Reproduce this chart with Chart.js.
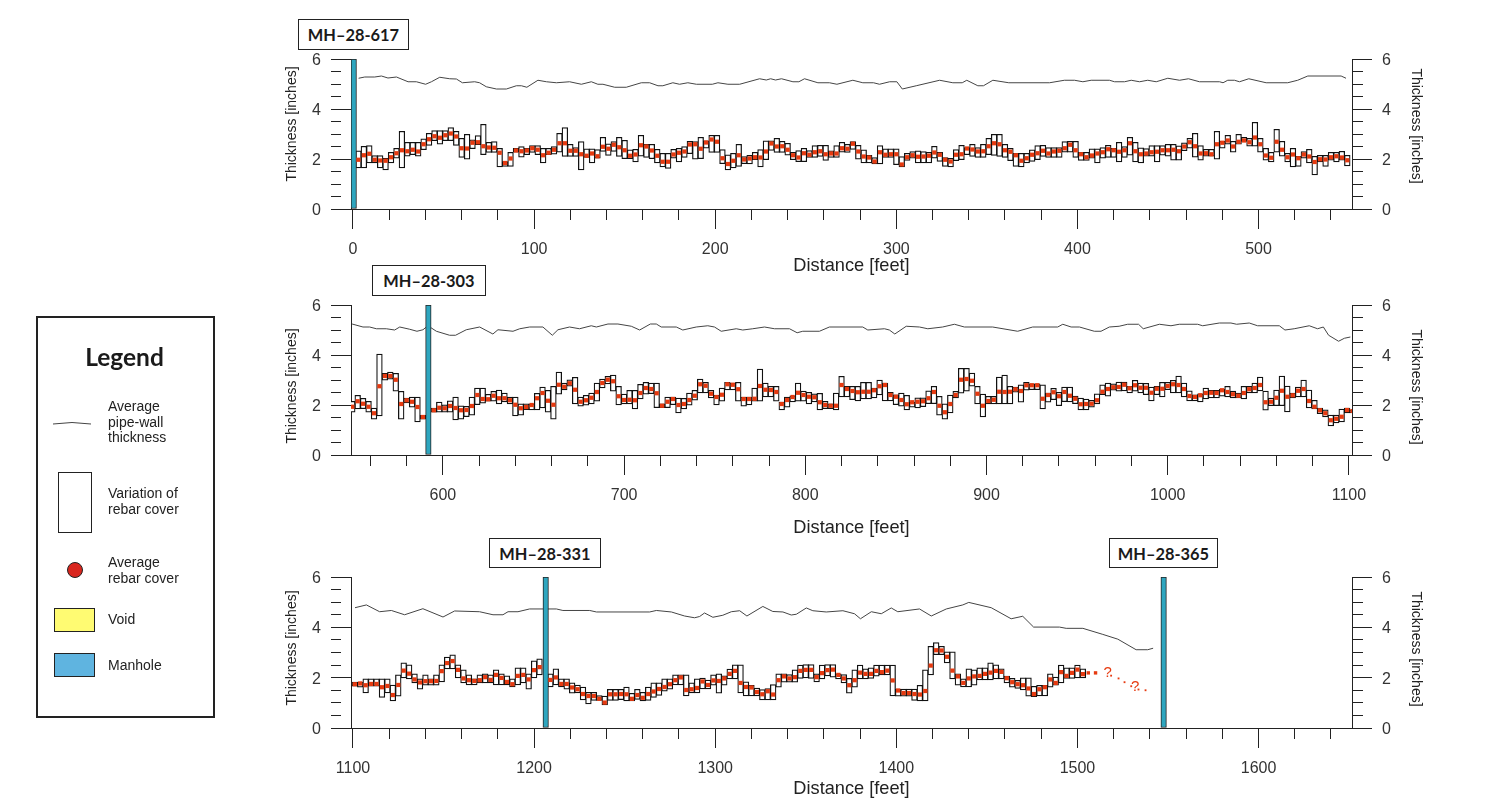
<!DOCTYPE html>
<html>
<head>
<meta charset="utf-8">
<title>Pipe-wall thickness and rebar cover</title>
<script src="https://cdn.jsdelivr.net/npm/chart.js@4"></script>
<style>
  body { margin: 0; background: #fff; overflow: hidden; font-family: "Liberation Sans", Arial, sans-serif; color: #222; }
  canvas { position: absolute; left: 0; }
  .mh { position: absolute; box-sizing: border-box; border: 1.5px solid #222; background: #fff; display: flex; align-items: center; justify-content: center; font: bold 16.4px Lato, sans-serif; color: #1a1a1a; z-index: 5; }
  .ytitle { position: absolute; font-size: 14px; white-space: nowrap; color: #222; }
  .ytitle.left { transform: translate(-50%, -50%) rotate(-90deg); }
  .ytitle.right { transform: translate(-50%, -50%) rotate(90deg); }
  #legend { position: absolute; left: 36px; top: 316px; width: 179px; height: 402px; box-sizing: border-box; border: 2px solid #222; }
  #legend-title { position: absolute; left: 36px; top: 342px; width: 177px; text-align: center; font: bold 24.5px Lato, sans-serif; color: #1a1a1a; }
  .lg { position: absolute; left: 108px; font-size: 14px; line-height: 15.5px; color: #222; }
  .sw { position: absolute; box-sizing: border-box; border: 1px solid #222; }
</style>
</head>
<body>
<canvas id="panel1" width="1496" height="277" style="top:0"></canvas>
<canvas id="panel2" width="1496" height="279" style="top:260px"></canvas>
<canvas id="panel3" width="1496" height="270" style="top:530px"></canvas>

<div class="mh" style="left:298px;top:19px;width:111px;height:31px">MH–28-617</div>
<div class="mh" style="left:372px;top:265px;width:114px;height:31px">MH–28-303</div>
<div class="mh" style="left:489px;top:538px;width:112px;height:30px">MH–28-331</div>
<div class="mh" style="left:1109px;top:538px;width:109px;height:30px">MH–28-365</div>

<div class="ytitle left" style="left:291px;top:124px">Thickness [inches]</div>
<div class="ytitle right" style="left:1417px;top:126px">Thickness [inches]</div>
<div class="ytitle left" style="left:291px;top:386px">Thickness [inches]</div>
<div class="ytitle right" style="left:1417px;top:387px">Thickness [inches]</div>
<div class="ytitle left" style="left:291px;top:648px">Thickness [inches]</div>
<div class="ytitle right" style="left:1417px;top:649px">Thickness [inches]</div>

<div id="legend"></div>
<div id="legend-title">Legend</div>
<svg style="position:absolute;left:50px;top:418px" width="44" height="12"><path d="M3 6 Q22 3 41 6" fill="none" stroke="#444" stroke-width="1"/></svg>
<div class="lg" style="top:399px">Average<br>pipe-wall<br>thickness</div>
<div class="sw" style="left:58px;top:472px;width:34px;height:61px;background:#fff"></div>
<div class="lg" style="top:486px">Variation of<br>rebar cover</div>
<div class="sw" style="left:67px;top:562px;width:16px;height:16px;border-radius:50%;background:#d9261e"></div>
<div class="lg" style="top:555px">Average<br>rebar cover</div>
<div class="sw" style="left:54px;top:608px;width:41px;height:24px;background:#fffb72"></div>
<div class="lg" style="top:612px">Void</div>
<div class="sw" style="left:54px;top:653px;width:41px;height:24px;background:#5fb4e0"></div>
<div class="lg" style="top:658px">Manhole</div>

<script>
const yTicks = [0, 0.5, 1, 1.5, 2, 2.5, 3, 3.5, 4, 4.5, 5, 5.5, 6];

// panel 1, 0 to 550 feet
const p1Ticks = [0, 20, 40, 60, 80, 100, 120, 140, 160, 180, 200, 220, 240, 260, 280, 300, 320, 340, 360, 380, 400, 420, 440, 460, 480, 500, 520, 540];
const p1Manholes = [0.4];
const p1Dist = [3, 6, 9, 12, 15, 18, 21, 24, 27, 30, 33, 36, 39, 42, 45, 48, 51, 54, 57, 60, 63, 66, 69, 72, 75, 78, 81, 84, 87, 90, 93, 96, 99, 102, 105, 108, 111, 114, 117, 120, 123, 126, 129, 132, 135, 138, 141, 144, 147, 150, 153, 156, 159, 162, 165, 168, 171, 174, 177, 180, 183, 186, 189, 192, 195, 198, 201, 204, 207, 210, 213, 216, 219, 222, 225, 228, 231, 234, 237, 240, 243, 246, 249, 252, 255, 258, 261, 264, 267, 270, 273, 276, 279, 282, 285, 288, 291, 294, 297, 300, 303, 306, 309, 312, 315, 318, 321, 324, 327, 330, 333, 336, 339, 342, 345, 348, 351, 354, 357, 360, 363, 366, 369, 372, 375, 378, 381, 384, 387, 390, 393, 396, 399, 402, 405, 408, 411, 414, 417, 420, 423, 426, 429, 432, 435, 438, 441, 444, 447, 450, 453, 456, 459, 462, 465, 468, 471, 474, 477, 480, 483, 486, 489, 492, 495, 498, 501, 504, 507, 510, 513, 516, 519, 522, 525, 528, 531, 534, 537, 540, 543, 546, 549];
const p1High = [
  2.33, 2.51, 2.54, 2.14, 2.14, 2.03, 2.27, 2.43, 3.11, 2.67,
  2.67, 2.67, 2.81, 3.03, 3.14, 3.14, 3.14, 3.26, 3.11, 2.83,
  2.99, 2.77, 2.94, 3.39, 2.67, 2.70, 2.43, 1.90, 2.27, 2.43,
  2.50, 2.43, 2.54, 2.54, 2.43, 2.43, 2.50, 3.03, 3.26, 2.59,
  2.46, 2.70, 2.41, 2.41, 2.38, 2.87, 2.61, 2.70, 2.87, 2.75,
  2.37, 2.39, 2.95, 2.59, 2.59, 2.39, 2.23, 2.23, 2.39, 2.43,
  2.50, 2.71, 2.70, 2.87, 2.73, 2.95, 2.95, 2.38, 2.17, 2.23,
  2.59, 2.10, 2.15, 2.27, 2.38, 2.73, 2.73, 2.83, 2.71, 2.63,
  2.27, 2.34, 2.43, 2.34, 2.54, 2.55, 2.55, 2.33, 2.54, 2.67,
  2.59, 2.70, 2.55, 2.37, 2.15, 2.06, 2.54, 2.41, 2.41, 2.41,
  2.10, 2.23, 2.30, 2.33, 2.30, 2.27, 2.51, 2.27, 2.06, 2.03,
  2.38, 2.55, 2.46, 2.59, 2.46, 2.59, 2.83, 2.99, 2.99, 2.59,
  2.43, 2.23, 2.23, 2.23, 2.37, 2.54, 2.55, 2.46, 2.46, 2.46,
  2.70, 2.71, 2.71, 2.27, 2.27, 2.41, 2.41, 2.46, 2.55, 2.43,
  2.67, 2.50, 2.87, 2.67, 2.45, 2.42, 2.54, 2.54, 2.54, 2.59,
  2.59, 2.53, 2.65, 2.83, 3.03, 2.54, 2.39, 2.39, 3.11, 2.71,
  2.95, 2.71, 2.99, 2.87, 2.83, 3.47, 2.83, 2.43, 2.27, 3.19,
  2.71, 2.23, 2.43, 2.11, 2.30, 2.39, 2.11, 2.15, 2.15, 2.27,
  2.27, 2.31, 2.15
];
const p1Low = [
  1.64, 1.64, 1.84, 1.84, 1.64, 1.56, 1.84, 2.03, 1.64, 2.11,
  2.17, 2.11, 2.37, 2.54, 2.73, 2.59, 2.73, 2.73, 2.54, 2.06,
  1.99, 2.41, 2.57, 2.17, 2.26, 2.26, 1.68, 1.70, 1.70, 2.27,
  2.07, 2.17, 2.26, 2.17, 1.84, 2.17, 2.19, 2.27, 2.10, 2.10,
  2.10, 1.56, 2.06, 1.84, 2.03, 2.30, 2.14, 2.30, 2.10, 2.01,
  2.01, 1.88, 2.11, 2.06, 2.01, 1.84, 1.68, 1.62, 2.03, 1.88,
  2.06, 2.21, 1.99, 2.01, 2.43, 2.26, 2.26, 1.81, 1.56, 1.64,
  1.70, 1.81, 1.80, 1.97, 1.68, 1.97, 2.34, 2.26, 2.26, 2.15,
  1.97, 1.89, 1.89, 2.06, 2.06, 2.10, 1.94, 2.06, 2.06, 2.27,
  2.26, 2.38, 1.99, 1.84, 1.84, 1.80, 1.80, 2.06, 2.06, 1.77,
  1.68, 1.94, 2.03, 1.84, 1.84, 1.84, 2.03, 1.90, 1.70, 1.68,
  1.93, 1.97, 2.17, 2.10, 2.06, 2.06, 2.17, 2.14, 2.10, 2.06,
  1.93, 1.70, 1.68, 1.84, 1.90, 1.97, 2.10, 2.06, 2.06, 2.06,
  2.27, 2.27, 2.06, 1.94, 1.94, 2.03, 1.84, 2.03, 2.06, 2.06,
  1.88, 2.06, 2.15, 1.88, 1.84, 2.11, 2.11, 1.88, 2.15, 2.11,
  1.95, 1.95, 2.33, 2.43, 2.07, 1.95, 2.11, 2.11, 1.99, 2.43,
  2.59, 2.27, 2.59, 2.70, 2.51, 2.51, 2.27, 1.95, 1.88, 2.27,
  2.11, 1.88, 1.68, 1.70, 2.03, 1.84, 1.36, 1.88, 1.70, 1.95,
  1.88, 1.95, 1.72
];
const p1Avg = [
  1.97, 2.15, 2.21, 1.97, 1.94, 1.93, 2.07, 2.23, 2.35, 2.31,
  2.37, 2.30, 2.59, 2.79, 2.91, 2.85, 2.95, 3.02, 2.90, 2.43,
  2.42, 2.65, 2.67, 2.51, 2.46, 2.45, 2.25, 1.84, 2.02, 2.34,
  2.31, 2.34, 2.43, 2.37, 2.15, 2.25, 2.37, 2.63, 2.63, 2.33,
  2.33, 2.19, 2.13, 2.22, 2.11, 2.49, 2.41, 2.57, 2.47, 2.35,
  2.13, 2.18, 2.55, 2.50, 2.34, 2.13, 1.89, 1.89, 2.18, 2.25,
  2.30, 2.58, 2.59, 2.41, 2.66, 2.78, 2.69, 2.03, 1.80, 1.93,
  2.15, 1.98, 2.02, 2.07, 2.06, 2.30, 2.62, 2.50, 2.51, 2.37,
  2.15, 2.06, 2.23, 2.17, 2.27, 2.31, 2.19, 2.22, 2.22, 2.43,
  2.41, 2.61, 2.30, 2.10, 2.06, 1.90, 2.27, 2.17, 2.19, 2.19,
  1.78, 2.07, 2.15, 2.09, 2.10, 2.13, 2.26, 2.17, 1.97, 1.90,
  2.17, 2.19, 2.42, 2.38, 2.30, 2.31, 2.51, 2.63, 2.59, 2.35,
  2.29, 2.15, 1.93, 2.03, 2.17, 2.23, 2.33, 2.22, 2.30, 2.33,
  2.43, 2.57, 2.35, 2.19, 2.07, 2.14, 2.22, 2.27, 2.39, 2.35,
  2.29, 2.35, 2.63, 2.31, 2.19, 2.22, 2.27, 2.29, 2.35, 2.35,
  2.37, 2.31, 2.50, 2.67, 2.51, 2.22, 2.23, 2.19, 2.59, 2.65,
  2.74, 2.50, 2.69, 2.74, 2.67, 2.86, 2.59, 2.14, 2.05, 2.69,
  2.37, 2.07, 2.18, 2.03, 2.18, 2.10, 1.88, 1.99, 1.98, 2.07,
  2.11, 2.06, 1.95
];
const p1WallDist = [3.1, 6.5, 12, 15.7, 19.3, 24, 30.4, 35, 40.1, 43.3, 47.9, 53.4, 57.1, 60.4, 67.2, 69.9, 73.6, 79.2, 84.7, 90.2, 93, 96, 102.1, 106.8, 112.3, 119.6, 126.1, 131.6, 135.2, 138, 144.5, 150.9, 159.2, 163.8, 168.4, 171.1, 176.6, 180.3, 184.9, 189.6, 198.4, 201.5, 207, 213.5, 224.5, 228.2, 230.6, 233.3, 236.6, 242.9, 246.2, 249.3, 256.7, 263.1, 267.2, 276, 281.5, 287.4, 290.7, 296.3, 300.3, 303.3, 311, 323.9, 331.2, 336.4, 338.9, 345, 348.1, 353.3, 362.1, 384.6, 392.8, 398.4, 403, 407.6, 417.7, 420.5, 426, 429.7, 434.3, 438.8, 443.5, 449.9, 456.4, 461.3, 467.4, 478.5, 480.4, 483, 486.7, 489.5, 494.6, 504.2, 516.1, 521.6, 527.2, 545.6, 548.3];
const p1Wall = [5.23, 5.28, 5.28, 5.32, 5.24, 5.28, 5.09, 5.09, 4.99, 5.09, 5.27, 5.21, 5.2, 5.05, 5.09, 5.05, 4.89, 4.8, 4.8, 4.93, 4.93, 4.87, 5.15, 5.09, 5.05, 5.09, 4.99, 5.09, 4.99, 4.99, 4.87, 4.87, 5.05, 5.05, 4.93, 4.93, 5.05, 4.99, 5.05, 4.99, 4.99, 5.05, 4.99, 4.99, 5.21, 5.16, 5.21, 5.16, 5.21, 5.09, 5.09, 5.21, 5.05, 5.05, 4.99, 5.15, 5.05, 5.05, 4.99, 5.09, 5.09, 4.8, 4.93, 5.15, 5.05, 5.05, 5.15, 4.93, 4.93, 5.15, 5.05, 5.05, 5.15, 5.15, 5.09, 5.15, 5.15, 5.09, 5.09, 5.15, 5.09, 5.15, 5.09, 5.23, 5.15, 5.21, 5.09, 5.09, 5.05, 5.15, 5.15, 5.09, 5.21, 5.05, 5.05, 5.15, 5.32, 5.32, 5.23];

// panel 2, 550 to 1100 feet
const p2Ticks = [560, 580, 600, 620, 640, 660, 680, 700, 720, 740, 760, 780, 800, 820, 840, 860, 880, 900, 920, 940, 960, 980, 1000, 1020, 1040, 1060, 1080, 1100];
const p2Manholes = [592];
const p2Dist = [550, 553, 556, 559, 562, 565, 568, 571, 574, 577, 580, 583, 586, 589, 595, 598, 601, 604, 607, 610, 613, 616, 619, 622, 625, 628, 631, 634, 637, 640, 643, 646, 649, 652, 655, 658, 661, 664, 667, 670, 673, 676, 679, 682, 685, 688, 691, 694, 697, 700, 703, 706, 709, 712, 715, 718, 721, 724, 727, 730, 733, 736, 739, 742, 745, 748, 751, 754, 757, 760, 763, 766, 769, 772, 775, 778, 781, 784, 787, 790, 793, 796, 799, 802, 805, 808, 811, 814, 817, 820, 823, 826, 829, 832, 835, 838, 841, 844, 847, 850, 853, 856, 859, 862, 865, 868, 871, 874, 877, 880, 883, 886, 889, 892, 895, 898, 901, 904, 907, 910, 913, 916, 919, 922, 925, 928, 931, 934, 937, 940, 943, 946, 949, 952, 955, 958, 961, 964, 967, 970, 973, 976, 979, 982, 985, 988, 991, 994, 997, 1000, 1003, 1006, 1009, 1012, 1015, 1018, 1021, 1024, 1027, 1030, 1033, 1036, 1039, 1042, 1045, 1048, 1051, 1054, 1057, 1060, 1063, 1066, 1069, 1072, 1075, 1078, 1081, 1084, 1087, 1090, 1093, 1096, 1099, 1102];
const p2High = [
  2.15, 2.39, 2.27, 2.15, 1.88, 4.04, 3.27, 3.32, 3.27, 2.55,
  2.28, 2.32, 2.32, 1.59, 1.88, 2.12, 2.01, 2.17, 2.32, 1.97,
  1.95, 2.32, 2.68, 2.68, 2.43, 2.55, 2.60, 2.48, 2.32, 2.32,
  2.05, 2.05, 2.05, 2.47, 2.72, 2.59, 2.75, 3.32, 2.88, 3.01,
  3.11, 2.32, 2.39, 2.48, 2.88, 3.04, 3.15, 3.20, 2.75, 2.44,
  2.59, 2.59, 2.83, 2.91, 2.88, 2.88, 2.05, 2.32, 2.32, 2.28,
  2.27, 2.48, 2.59, 3.04, 2.91, 2.59, 2.39, 2.68, 2.91, 2.88,
  2.91, 2.32, 2.32, 2.68, 3.44, 2.88, 2.75, 2.75, 2.12, 2.32,
  2.37, 2.88, 2.56, 2.51, 2.45, 2.47, 2.15, 2.05, 2.48, 3.15,
  2.75, 2.75, 2.75, 2.91, 2.91, 2.68, 3.00, 2.88, 2.51, 2.41,
  2.48, 2.39, 2.12, 2.29, 2.29, 2.57, 2.75, 2.35, 2.05, 2.40,
  2.55, 3.47, 3.47, 3.28, 2.75, 2.44, 2.35, 2.35, 3.12, 3.20,
  2.75, 2.72, 2.81, 2.91, 2.85, 2.85, 2.81, 2.48, 2.67, 2.51,
  2.72, 2.72, 2.36, 2.28, 2.24, 2.19, 2.45, 2.81, 2.88, 2.85,
  2.92, 2.92, 2.75, 2.99, 2.88, 2.87, 2.72, 2.75, 2.91, 2.91,
  2.99, 3.16, 2.88, 2.57, 2.41, 2.45, 2.68, 2.59, 2.59, 2.64,
  2.75, 2.56, 2.48, 2.75, 2.75, 2.88, 3.12, 2.56, 2.28, 2.60,
  3.16, 2.76, 2.48, 2.72, 3.00, 2.60, 2.19, 1.88, 1.81, 1.60,
  1.60, 1.84, 1.88, 1.81
];
const p2Low = [
  1.71, 1.84, 1.85, 1.71, 1.43, 1.56, 2.99, 3.03, 2.55, 1.43,
  2.08, 1.91, 1.32, 1.43, 1.71, 1.71, 1.71, 1.71, 1.40, 1.43,
  1.53, 1.59, 2.01, 2.07, 2.15, 2.15, 2.04, 2.12, 2.04, 1.56,
  1.59, 1.81, 1.80, 1.80, 1.88, 1.71, 1.43, 2.43, 2.60, 2.75,
  2.04, 1.95, 1.99, 2.04, 2.15, 2.68, 2.84, 2.55, 2.00, 2.04,
  2.04, 1.84, 2.24, 2.43, 2.45, 1.89, 1.89, 1.89, 2.01, 1.68,
  1.84, 1.99, 2.19, 2.48, 2.48, 2.28, 2.00, 2.15, 2.60, 2.60,
  2.15, 1.95, 2.00, 2.15, 2.15, 2.32, 2.32, 2.15, 1.80, 1.91,
  2.12, 2.15, 2.15, 2.04, 2.12, 1.80, 1.85, 1.85, 1.80, 2.32,
  2.32, 2.21, 2.16, 2.24, 2.24, 2.28, 2.40, 2.16, 2.16, 2.01,
  1.95, 1.80, 1.91, 1.88, 1.93, 2.05, 2.05, 1.59, 1.43, 1.68,
  2.28, 2.47, 2.55, 2.75, 2.04, 1.52, 2.04, 2.04, 2.04, 2.04,
  2.04, 2.51, 2.11, 2.59, 2.61, 2.61, 1.84, 2.11, 2.21, 1.97,
  2.13, 2.12, 2.05, 1.80, 1.80, 1.91, 2.04, 2.41, 2.35, 2.59,
  2.55, 2.56, 2.48, 2.55, 2.48, 2.41, 2.16, 2.41, 2.32, 2.61,
  2.48, 2.48, 2.32, 2.16, 2.16, 2.12, 2.24, 2.28, 2.28, 2.35,
  2.32, 2.28, 2.28, 2.24, 2.48, 2.48, 2.56, 1.79, 1.97, 1.97,
  1.97, 1.72, 2.28, 2.32, 2.32, 1.88, 1.84, 1.65, 1.52, 1.16,
  1.28, 1.32, 1.68, 1.68
];
const p2Avg = [
  1.93, 2.15, 2.05, 1.93, 1.67, 2.75, 3.16, 3.16, 3.01, 2.04,
  2.19, 2.13, 1.92, 1.52, 1.79, 1.89, 1.87, 1.96, 1.88, 1.79,
  1.80, 1.96, 2.40, 2.24, 2.23, 2.37, 2.27, 2.27, 2.19, 2.01,
  1.87, 1.92, 2.00, 2.27, 2.48, 2.17, 2.01, 2.81, 2.73, 2.87,
  2.61, 2.13, 2.19, 2.29, 2.52, 2.88, 3.01, 2.95, 2.35, 2.20,
  2.21, 2.19, 2.48, 2.68, 2.64, 2.47, 1.97, 2.13, 2.24, 2.00,
  2.04, 2.20, 2.37, 2.83, 2.77, 2.45, 2.32, 2.41, 2.83, 2.81,
  2.63, 2.24, 2.24, 2.25, 2.76, 2.61, 2.60, 2.52, 2.04, 2.20,
  2.32, 2.49, 2.40, 2.33, 2.31, 2.11, 2.00, 1.97, 1.97, 2.80,
  2.64, 2.56, 2.51, 2.53, 2.53, 2.59, 2.75, 2.80, 2.40, 2.33,
  2.20, 2.03, 2.11, 2.13, 2.15, 2.27, 2.52, 1.97, 1.71, 2.04,
  2.40, 3.01, 3.04, 2.97, 2.45, 1.97, 2.16, 2.21, 2.53, 2.52,
  2.53, 2.63, 2.56, 2.79, 2.79, 2.79, 2.25, 2.40, 2.51, 2.35,
  2.52, 2.37, 2.25, 2.03, 2.04, 2.05, 2.19, 2.53, 2.64, 2.71,
  2.72, 2.81, 2.67, 2.79, 2.69, 2.69, 2.49, 2.65, 2.65, 2.76,
  2.83, 2.80, 2.64, 2.36, 2.32, 2.39, 2.48, 2.49, 2.48, 2.59,
  2.52, 2.43, 2.37, 2.48, 2.63, 2.68, 2.80, 2.11, 2.13, 2.29,
  2.57, 2.33, 2.39, 2.57, 2.64, 2.16, 1.93, 1.79, 1.67, 1.39,
  1.45, 1.53, 1.80, 1.76
];
const p2WallDist = [549.9, 555.9, 559.6, 563.3, 568.8, 573.4, 576.2, 581.7, 585.7, 589, 591.8, 596.4, 603.7, 607, 612.9, 620.3, 627.6, 630.4, 638.7, 642.4, 647.9, 655.2, 660.4, 663.5, 669.9, 675.4, 681.9, 684.7, 691.1, 696.6, 704, 708.6, 714.5, 717.8, 720.5, 728.8, 732.4, 739.8, 746.2, 749.9, 753.6, 761.9, 765.5, 771, 777.5, 783, 791.3, 795.5, 798.6, 807.8, 813.3, 831.7, 834.5, 843.7, 846.4, 849.4, 855.7, 863, 867.6, 875.8, 882.3, 887.8, 903.4, 917.2, 925.5, 939.3, 942.1, 946.7, 951.3, 959.5, 963.2, 967.8, 973.2, 977.9, 983.9, 986.5, 995.4, 1001.8, 1006.4, 1016.5, 1019.3, 1028.5, 1034.9, 1038, 1045, 1049.6, 1061.6, 1064.7, 1069.8, 1078.1, 1082.7, 1085.9, 1088.8, 1094.3, 1097.5, 1100.8];
const p2Wall = [5.24, 5.12, 5.12, 5.05, 5.05, 5, 5.12, 5.03, 4.95, 5.01, 5.17, 4.95, 4.79, 4.79, 5.01, 5.12, 4.84, 5.01, 4.95, 5.05, 5.12, 5.12, 4.79, 5.01, 5.12, 5.05, 5.17, 5.12, 5.24, 5.24, 5.15, 5, 5.24, 5.24, 5.12, 5.12, 5, 5.12, 5.17, 5.12, 4.95, 5.05, 5, 5.05, 5.12, 5.05, 5.05, 4.89, 4.95, 4.95, 5.12, 5.12, 5, 5.05, 5, 4.84, 5.15, 5.12, 5.05, 5.12, 5.23, 5.12, 5.12, 4.95, 5.12, 5.12, 5.23, 5.12, 5.12, 4.95, 4.95, 5.12, 5.15, 5.23, 5.23, 5.05, 5.23, 5.17, 5.23, 5.23, 5.17, 5.28, 5.28, 5.23, 5.28, 5.17, 5.17, 5, 5.05, 5.17, 5.05, 5.12, 4.79, 4.55, 4.67, 4.72];

// panel 3, 1100 to 1650 feet
const p3Ticks = [1100, 1120, 1140, 1160, 1180, 1200, 1220, 1240, 1260, 1280, 1300, 1320, 1340, 1360, 1380, 1400, 1420, 1440, 1460, 1480, 1500, 1520, 1540, 1560, 1580, 1600, 1620, 1640];
const p3Manholes = [1206.4, 1547.6];
const p3Dist = [1101, 1104, 1107, 1110, 1113, 1116, 1119, 1122, 1125, 1128, 1131, 1134, 1137, 1140, 1143, 1146, 1149, 1152, 1155, 1158, 1161, 1164, 1167, 1170, 1173, 1176, 1179, 1182, 1185, 1188, 1191, 1194, 1197, 1200, 1203, 1209, 1212, 1215, 1218, 1221, 1224, 1227, 1230, 1233, 1236, 1239, 1242, 1245, 1248, 1251, 1254, 1257, 1260, 1263, 1266, 1269, 1272, 1275, 1278, 1281, 1284, 1287, 1290, 1293, 1296, 1299, 1302, 1305, 1308, 1311, 1314, 1317, 1320, 1323, 1326, 1329, 1332, 1335, 1338, 1341, 1344, 1347, 1350, 1353, 1356, 1359, 1362, 1365, 1368, 1371, 1374, 1377, 1380, 1383, 1386, 1389, 1392, 1395, 1398, 1401, 1404, 1407, 1410, 1413, 1416, 1419, 1422, 1425, 1428, 1431, 1434, 1437, 1440, 1443, 1446, 1449, 1452, 1455, 1458, 1461, 1464, 1467, 1470, 1473, 1476, 1479, 1482, 1485, 1488, 1491, 1494, 1497, 1500, 1503];
const p3High = [
  1.82, 1.82, 1.95, 1.95, 1.95, 1.95, 1.95, 1.71, 2.11, 2.59,
  2.51, 2.15, 1.95, 2.11, 1.95, 2.11, 2.51, 2.82, 2.91, 2.51,
  2.31, 2.11, 1.95, 2.11, 2.15, 2.11, 2.31, 2.15, 2.07, 1.95,
  2.39, 2.39, 2.15, 2.67, 2.75, 2.15, 2.35, 1.95, 1.95, 1.79,
  1.71, 1.63, 1.42, 1.42, 1.29, 1.27, 1.54, 1.54, 1.54, 1.63,
  1.38, 1.54, 1.42, 1.63, 1.79, 1.79, 1.95, 1.95, 2.11, 2.11,
  2.11, 1.79, 1.95, 1.98, 1.90, 2.11, 2.15, 2.07, 2.34, 2.51,
  2.51, 1.83, 1.70, 1.59, 1.53, 1.57, 1.73, 2.15, 2.15, 2.12,
  2.31, 2.50, 2.52, 2.52, 2.15, 2.50, 2.52, 2.52, 2.15, 2.12,
  1.97, 2.31, 2.50, 2.35, 2.39, 2.50, 2.50, 2.50, 2.50, 1.55,
  1.55, 1.55, 1.55, 1.70, 2.31, 3.25, 3.39, 3.25, 3.03, 3.03,
  2.15, 1.95, 2.35, 2.31, 2.39, 2.39, 2.59, 2.51, 2.35, 2.06,
  1.97, 1.89, 1.99, 1.99, 1.66, 1.70, 1.70, 2.15, 2.02, 2.50,
  2.39, 2.39, 2.50, 2.35
];
const p3Low = [
  1.66, 1.62, 1.39, 1.66, 1.66, 1.22, 1.39, 1.08, 1.26, 1.99,
  1.95, 1.79, 1.54, 1.70, 1.70, 1.70, 1.83, 2.35, 2.35, 1.99,
  1.79, 1.71, 1.71, 1.79, 1.79, 1.79, 1.71, 1.71, 1.71, 1.63,
  1.71, 1.79, 1.54, 1.99, 2.11, 1.63, 1.71, 1.63, 1.54, 1.38,
  1.39, 1.12, 0.96, 1.10, 1.10, 0.92, 1.10, 1.10, 1.13, 1.08,
  1.08, 1.14, 1.08, 1.10, 1.22, 1.29, 1.46, 1.54, 1.71, 1.71,
  1.27, 1.39, 1.39, 1.55, 1.55, 1.70, 1.38, 1.70, 1.95, 1.95,
  1.39, 1.27, 1.27, 1.27, 1.12, 1.12, 1.12, 1.62, 1.82, 1.82,
  1.82, 1.97, 1.99, 1.97, 1.83, 1.95, 2.07, 2.02, 1.95, 1.79,
  1.38, 1.62, 1.95, 1.95, 1.97, 2.06, 2.11, 2.11, 1.27, 1.26,
  1.26, 1.26, 1.10, 1.08, 1.08, 2.11, 2.91, 2.91, 2.59, 1.95,
  1.70, 1.63, 1.63, 1.70, 1.91, 1.91, 1.91, 1.95, 1.95, 1.79,
  1.62, 1.57, 1.51, 1.26, 1.24, 1.27, 1.27, 1.62, 1.70, 1.79,
  1.97, 1.97, 1.99, 1.99
];
const p3Avg = [
  1.74, 1.77, 1.70, 1.75, 1.75, 1.62, 1.67, 1.31, 1.71, 2.28,
  2.16, 1.93, 1.81, 1.86, 1.86, 1.87, 2.26, 2.58, 2.66, 2.31,
  1.97, 1.90, 1.87, 1.90, 2.02, 1.91, 2.11, 1.99, 1.83, 1.74,
  2.07, 2.11, 1.93, 2.30, 2.42, 1.91, 2.01, 1.75, 1.75, 1.61,
  1.54, 1.35, 1.27, 1.27, 1.16, 1.01, 1.34, 1.34, 1.35, 1.34,
  1.16, 1.31, 1.20, 1.35, 1.45, 1.55, 1.63, 1.74, 1.90, 2.01,
  1.51, 1.54, 1.59, 1.85, 1.71, 1.89, 1.87, 1.97, 2.15, 2.27,
  1.79, 1.63, 1.61, 1.43, 1.34, 1.46, 1.33, 1.90, 2.05, 1.97,
  2.02, 2.27, 2.31, 2.31, 2.02, 2.18, 2.30, 2.32, 2.11, 1.97,
  1.70, 1.90, 2.20, 2.15, 2.15, 2.27, 2.22, 2.28, 1.89, 1.49,
  1.39, 1.39, 1.35, 1.33, 1.47, 2.48, 3.09, 3.08, 2.83, 2.28,
  2.05, 1.79, 1.97, 2.05, 2.07, 2.15, 2.20, 2.27, 2.23, 1.98,
  1.82, 1.74, 1.70, 1.57, 1.35, 1.54, 1.62, 1.93, 1.79, 2.22,
  2.07, 2.19, 2.32, 2.14
];
const p3TailDist = [1506, 1510, 1518.6, 1522.7, 1526, 1529.7, 1533.7, 1537.6];
const p3TailAvg = [2.19, 2.19, 2.08, 1.97, 1.82, 1.66, 1.53, 1.5];
const p3QueryDist = [1516.7, 1531.9];
const p3QueryAvg = [2.18, 1.62];
const p3WallDist = [1101.1, 1107.4, 1114.7, 1121.2, 1128.5, 1138.6, 1149.7, 1156.1, 1169.9, 1177.3, 1182.8, 1185.6, 1191.1, 1197.5, 1212.3, 1215.9, 1230.7, 1234.4, 1263.8, 1267.5, 1275.8, 1283.1, 1288.6, 1291.4, 1294.1, 1298.7, 1304.2, 1308.9, 1313.5, 1317.5, 1326.3, 1331.8, 1337.4, 1342, 1344.8, 1350.3, 1353.9, 1361.3, 1370.5, 1376.9, 1380.2, 1386.2, 1391.7, 1397.2, 1400.8, 1412.8, 1419.3, 1427.6, 1436.7, 1440, 1452.4, 1463.4, 1469.8, 1475.8, 1490.1, 1493.8, 1503, 1514, 1522.3, 1532.4, 1538.8, 1541.8];
const p3Wall = [4.78, 4.89, 4.62, 4.67, 4.5, 4.74, 4.41, 4.65, 4.62, 4.5, 4.5, 4.62, 4.62, 4.73, 4.73, 4.67, 4.67, 4.61, 4.61, 4.67, 4.61, 4.45, 4.38, 4.43, 4.57, 4.4, 4.48, 4.62, 4.66, 4.45, 4.83, 4.63, 4.61, 4.49, 4.52, 4.77, 4.66, 4.61, 4.66, 4.54, 4.34, 4.62, 4.54, 4.77, 4.62, 4.73, 4.45, 4.73, 4.89, 4.99, 4.78, 4.34, 4.44, 4.01, 4.01, 3.96, 3.96, 3.72, 3.53, 3.11, 3.11, 3.17];

const lineColor = "#222";
const redColor = "#e63a10";

Chart.defaults.font.family = '"Liberation Sans", Arial, sans-serif';
Chart.defaults.font.size = 16;
Chart.defaults.color = "#333";

// red question marks on the inferred stretch of the last panel
const queryMarks = {
  id: "queryMarks",
  afterDatasetsDraw(chart, args, opts) {
    if (!opts.dist) return;
    const { ctx, scales } = chart;
    ctx.save();
    ctx.font = "15px 'Liberation Sans', Arial, sans-serif";
    ctx.fillStyle = redColor;
    ctx.textAlign = "center";
    ctx.textBaseline = "middle";
    opts.dist.forEach((d, i) => {
      ctx.fillText("?", scales.x.getPixelForValue(d), scales.y.getPixelForValue(opts.value[i]));
    });
    ctx.restore();
  }
};

function yAxis(position, width) {
  return {
    position,
    min: 0,
    max: 6,
    afterBuildTicks: scale => { scale.ticks = yTicks.map(value => ({ value })); },
    afterFit: scale => { scale.width = width; },
    border: { color: lineColor },
    grid: {
      drawOnChartArea: false,
      tickLength: 20,
      tickColor: lineColor,
      tickBorderDash: ctx => (ctx.tick && ctx.tick.value % 2 === 0 ? [] : [10, 100])
    },
    ticks: {
      autoSkip: false,
      padding: 10,
      labelOffset: 1.5,
      callback: value => (value % 2 === 0 ? value : "")
    }
  };
}

function makePanel(id, cfg) {
  const datasets = [
    {
      type: "line",
      data: cfg.wallDist.map((x, i) => ({ x, y: cfg.wall[i] })),
      borderColor: "#444",
      borderWidth: 1,
      pointRadius: 0,
      order: 4
    },
    {
      type: "bar",
      data: cfg.dist.map((x, i) => ({ x, y: [cfg.low[i], cfg.high[i]] })),
      backgroundColor: "#fff",
      borderColor: "#111",
      borderWidth: 1.25,
      borderSkipped: false,
      barThickness: 5.7,
      grouped: false,
      order: 3
    },
    {
      type: "bar",
      data: cfg.manholes.map(x => ({ x, y: [0, 6] })),
      backgroundColor: "#2ea6bf",
      borderColor: lineColor,
      borderWidth: 1,
      borderSkipped: false,
      barThickness: 5.5,
      grouped: false,
      order: 2
    },
    {
      type: "line",
      showLine: false,
      data: cfg.dist.map((x, i) => ({ x, y: cfg.avg[i] })),
      pointStyle: "rect",
      pointRadius: 3,
      pointBorderWidth: 0,
      pointBackgroundColor: redColor,
      order: 1
    }
  ];
  if (cfg.tailDist) {
    datasets.push({
      type: "line",
      showLine: false,
      data: cfg.tailDist.map((x, i) => ({ x, y: cfg.tailAvg[i] })),
      pointStyle: "rect",
      pointRadius: ctx => (ctx.dataIndex < 2 ? 2.4 : 1.3),
      pointBorderWidth: 0,
      pointBackgroundColor: redColor,
      order: 1
    });
  }

  return new Chart(document.getElementById(id), {
    type: "bar",
    data: { datasets },
    plugins: [queryMarks],
    options: {
      responsive: false,
      animation: false,
      events: [],
      layout: { padding: { left: 280, right: 68, top: cfg.padTop, bottom: 0 } },
      plugins: {
        legend: { display: false },
        tooltip: { enabled: false },
        queryMarks: { dist: cfg.queryDist, value: cfg.queryAvg }
      },
      scales: {
        x: {
          type: "linear",
          offset: false,
          min: cfg.xMin,
          max: cfg.xMax,
          afterBuildTicks: scale => { scale.ticks = cfg.ticks.map(value => ({ value })); },
          afterFit: scale => { scale.height = cfg.xHeight; },
          border: { color: lineColor },
          grid: {
            offset: false,
            drawOnChartArea: false,
            tickLength: 20,
            tickColor: lineColor,
            tickBorderDash: ctx => (ctx.tick && ctx.tick.value % 100 === 0 ? [] : [10, 100])
          },
          ticks: {
            autoSkip: false,
            maxRotation: 0,
            padding: 11,
            callback: value => (value % 100 === 0 ? value : "")
          },
          title: {
            display: true,
            text: "Distance [feet]",
            color: "#222",
            padding: 0,
            font: { size: 18.2 }
          }
        },
        y: yAxis("left", 71),
        y2: yAxis("right", 76)
      }
    }
  });
}

makePanel("panel1", {
  padTop: 59, xHeight: 68, xMin: -1.1, xMax: 551.6,
  ticks: p1Ticks, manholes: p1Manholes,
  dist: p1Dist, high: p1High, low: p1Low, avg: p1Avg,
  wallDist: p1WallDist, wall: p1Wall
});

makePanel("panel2", {
  padTop: 45, xHeight: 84, xMin: 549.3, xMax: 1101.7,
  ticks: p2Ticks, manholes: p2Manholes,
  dist: p2Dist, high: p2High, low: p2Low, avg: p2Avg,
  wallDist: p2WallDist, wall: p2Wall
});

makePanel("panel3", {
  padTop: 47, xHeight: 72, xMin: 1098.9, xMax: 1651.6,
  ticks: p3Ticks, manholes: p3Manholes,
  dist: p3Dist, high: p3High, low: p3Low, avg: p3Avg,
  wallDist: p3WallDist, wall: p3Wall,
  tailDist: p3TailDist, tailAvg: p3TailAvg,
  queryDist: p3QueryDist, queryAvg: p3QueryAvg
});
</script>
</body>
</html>
